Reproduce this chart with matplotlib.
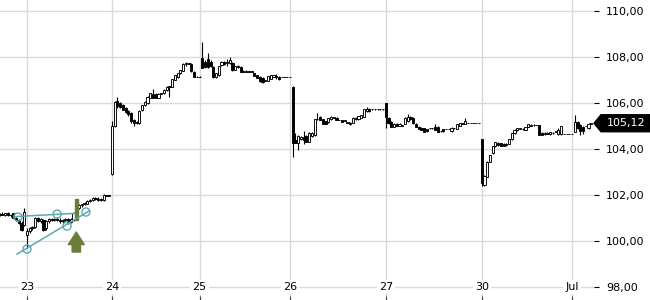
import numpy as np
import matplotlib.pyplot as plt
from matplotlib.patches import Polygon, Rectangle
from matplotlib.ticker import FuncFormatter

# intraday candles (open, high, low, close), one list per session
pre = [(101.12, 101.2, 101.08, 101.18), (101.18, 101.25, 101.12, 101.15), (101.15, 101.22, 101.1, 101.2),
       (101.2, 101.24, 101.1, 101.12), (101.12, 101.18, 101.05, 101.15), (101.2, 101.22, 100.98, 101.0),
       (101.0, 101.05, 100.85, 100.9), (100.9, 100.95, 100.72, 100.78), (100.8, 100.85, 100.45, 100.5),
       (100.7, 101.45, 100.65, 101.25)]

day23 = [(100.28, 100.56, 99.7, 100.45), (100.45, 100.6, 100.35, 100.55), (100.55, 100.65, 100.5, 100.6),
         (100.6, 101.05, 100.55, 101.0), (101.0, 101.05, 100.82, 100.85), (100.85, 101.0, 100.8, 100.95),
         (100.92, 100.96, 100.45, 100.5), (100.55, 100.92, 100.5, 100.88), (100.85, 101.0, 100.8, 100.95),
         (100.95, 101.02, 100.85, 100.9), (100.9, 101.0, 100.86, 100.95), (100.95, 101.05, 100.88, 100.92),
         (100.92, 100.98, 100.8, 100.85), (100.85, 100.95, 100.8, 100.9), (100.9, 101.0, 100.85, 100.96),
         (100.96, 101.0, 100.75, 100.8), (100.82, 100.98, 100.78, 100.95), (100.92, 101.25, 100.88, 101.2),
         (101.0, 101.5, 100.95, 101.45), (101.45, 101.6, 101.4, 101.57), (101.55, 101.62, 101.5, 101.6),
         (101.6, 101.68, 101.55, 101.65), (101.62, 101.8, 101.6, 101.76), (101.76, 101.84, 101.7, 101.8),
         (101.8, 101.9, 101.75, 101.86), (101.86, 101.92, 101.8, 101.84), (101.84, 101.9, 101.74, 101.78),
         (101.78, 101.88, 101.72, 101.82), (101.8, 102.05, 101.76, 101.98), (101.98, 102.0, 101.94, 101.96),
         (101.96, 101.98, 101.94, 101.96)]

day24 = [(102.9, 105.2, 102.85, 105.0), (105.0, 106.1, 104.95, 106.05), (106.1, 106.25, 105.8, 105.85),
         (106.0, 106.05, 105.8, 105.84), (105.9, 105.95, 105.68, 105.7), (105.78, 105.82, 105.55, 105.6),
         (105.65, 105.7, 105.45, 105.5), (105.55, 105.6, 105.15, 105.2), (105.26, 105.3, 105.0, 105.13),
         (105.12, 105.22, 105.08, 105.18), (105.13, 105.7, 105.1, 105.66), (105.7, 105.92, 105.66, 105.9),
         (105.9, 106.1, 105.85, 106.05), (106.0, 106.3, 105.95, 106.27), (106.22, 106.45, 106.2, 106.42),
         (106.4, 106.6, 106.2, 106.22), (106.38, 106.42, 106.2, 106.22), (106.22, 106.42, 106.2, 106.4),
         (106.4, 106.44, 106.38, 106.4), (106.43, 106.6, 106.4, 106.56), (106.56, 106.72, 106.5, 106.7),
         (106.7, 106.72, 106.26, 106.7), (106.7, 107.06, 106.68, 107.04), (107.0, 107.22, 106.98, 107.2),
         (107.12, 107.32, 107.1, 107.3), (107.3, 107.45, 107.28, 107.43), (107.4, 107.72, 107.38, 107.7),
         (107.68, 107.78, 107.62, 107.72), (107.72, 107.74, 107.68, 107.7), (107.7, 107.75, 107.35, 107.38),
         (107.35, 107.4, 107.12, 107.15), (107.14, 107.16, 107.12, 107.13)]

day25 = [(107.14, 107.16, 107.12, 107.13), (107.96, 108.65, 107.5, 107.52), (107.8, 107.85, 107.5, 107.55),
         (107.9, 108.17, 107.5, 107.55), (107.8, 107.85, 107.55, 107.6), (107.56, 107.6, 107.1, 107.13),
         (107.13, 107.32, 107.1, 107.3), (107.2, 107.62, 107.18, 107.6), (107.65, 107.82, 107.62, 107.8),
         (107.8, 107.84, 107.66, 107.7), (107.75, 107.9, 107.6, 107.75), (107.73, 108.0, 107.7, 107.87),
         (107.74, 107.78, 107.4, 107.43), (107.45, 107.62, 107.42, 107.6), (107.6, 107.64, 107.5, 107.55),
         (107.57, 107.6, 107.33, 107.35), (107.4, 107.42, 107.33, 107.35), (107.4, 107.42, 107.34, 107.36),
         (107.4, 107.41, 107.35, 107.36), (107.38, 107.4, 107.34, 107.36), (107.3, 107.32, 107.16, 107.18),
         (107.2, 107.22, 107.08, 107.1), (107.15, 107.17, 106.93, 106.95), (107.1, 107.12, 106.88, 106.9),
         (106.96, 106.98, 106.94, 106.96), (106.96, 107.18, 106.94, 107.17), (107.05, 107.22, 107.03, 107.2),
         (107.15, 107.22, 107.13, 107.2), (107.15, 107.25, 107.05, 107.15), (107.15, 107.17, 107.02, 107.04),
         (107.13, 107.14, 107.12, 107.13), (107.13, 107.14, 107.12, 107.13), (107.13, 107.14, 107.12, 107.13)]

day26 = [(107.13, 107.14, 107.12, 107.13), (106.7, 106.72, 103.65, 104.26), (104.4, 104.7, 104.24, 104.28),
         (104.26, 104.6, 103.96, 104.57), (104.45, 104.55, 104.38, 104.5), (104.52, 104.8, 104.2, 104.4),
         (104.57, 104.6, 104.3, 104.32), (104.32, 104.72, 104.3, 104.7), (104.55, 104.72, 104.5, 104.7),
         (104.6, 105.32, 104.58, 105.3), (105.3, 105.56, 105.28, 105.31), (105.4, 105.42, 105.24, 105.26),
         (105.3, 105.32, 105.08, 105.1), (105.2, 105.22, 105.08, 105.1), (105.17, 105.35, 105.15, 105.33),
         (105.3, 105.42, 105.28, 105.4), (105.36, 105.38, 105.34, 105.36), (105.36, 105.38, 105.24, 105.26),
         (105.26, 105.28, 105.24, 105.26), (105.26, 105.28, 105.17, 105.19), (105.22, 105.24, 105.2, 105.22),
         (105.15, 105.17, 105.13, 105.15), (105.15, 105.17, 105.05, 105.07), (105.13, 105.37, 105.11, 105.36),
         (105.3, 105.38, 105.28, 105.36), (105.3, 105.44, 105.28, 105.43), (105.36, 105.48, 105.34, 105.46),
         (105.4, 105.73, 105.38, 105.72), (105.65, 105.84, 105.63, 105.75), (105.75, 105.77, 105.63, 105.65),
         (105.72, 105.74, 105.7, 105.72), (105.72, 105.73, 105.71, 105.72), (105.72, 105.73, 105.71, 105.72),
         (105.72, 105.73, 105.71, 105.72), (105.72, 105.73, 105.71, 105.72)]

day27 = [(106.0, 106.02, 104.91, 105.4), (105.36, 105.38, 105.1, 105.12), (105.19, 105.21, 104.95, 104.97),
         (104.97, 105.12, 104.95, 105.1), (105.1, 105.12, 104.98, 105.0), (105.0, 105.14, 104.98, 105.1),
         (105.02, 105.06, 104.98, 105.04), (105.09, 105.37, 105.07, 105.35), (105.2, 105.54, 105.18, 105.4),
         (105.4, 105.42, 105.28, 105.3), (105.36, 105.38, 105.1, 105.12), (105.09, 105.11, 104.95, 104.97),
         (104.97, 104.99, 104.85, 104.87), (104.93, 104.95, 104.81, 104.83), (104.9, 104.92, 104.72, 104.74),
         (104.85, 104.87, 104.75, 104.77), (104.9, 104.92, 104.88, 104.9), (104.9, 104.91, 104.88, 104.9),
         (104.97, 105.09, 104.81, 104.83), (104.97, 104.99, 104.72, 104.74), (104.78, 104.8, 104.76, 104.78),
         (104.87, 104.89, 104.76, 104.78), (104.87, 104.88, 104.86, 104.87), (104.87, 104.88, 104.86, 104.87),
         (104.78, 104.95, 104.76, 104.93), (104.9, 104.91, 104.88, 104.9), (104.87, 105.1, 104.85, 105.09),
         (105.0, 105.15, 104.98, 105.13), (105.1, 105.12, 105.08, 105.1), (105.1, 105.36, 105.08, 105.22),
         (105.13, 105.14, 105.12, 105.13), (105.13, 105.14, 105.12, 105.13), (105.13, 105.14, 105.12, 105.13),
         (105.13, 105.14, 105.12, 105.13), (105.13, 105.14, 105.12, 105.13)]

day30 = [(104.42, 104.45, 102.39, 102.51), (102.45, 102.85, 102.4, 102.83), (102.8, 103.47, 102.78, 103.45),
         (103.45, 103.76, 103.43, 103.74), (103.81, 104.15, 103.79, 104.13), (104.13, 104.32, 104.1, 104.29),
         (104.25, 104.3, 104.15, 104.17), (104.25, 104.27, 104.11, 104.13), (104.22, 104.26, 104.12, 104.14),
         (104.2, 104.26, 104.13, 104.18), (104.22, 104.44, 104.2, 104.42), (104.42, 104.7, 104.4, 104.68),
         (104.68, 104.85, 104.66, 104.83), (104.82, 104.92, 104.8, 104.9), (104.88, 104.92, 104.86, 104.9),
         (104.85, 104.92, 104.83, 104.88), (104.84, 104.95, 104.82, 104.94), (104.97, 105.08, 104.95, 105.07),
         (105.02, 105.08, 105.0, 105.05), (105.03, 105.07, 105.0, 105.04), (105.04, 105.05, 105.03, 105.04),
         (105.04, 105.06, 104.6, 104.62), (104.7, 104.72, 104.6, 104.62), (104.65, 104.72, 104.62, 104.68),
         (104.66, 104.72, 104.64, 104.7), (104.65, 104.76, 104.63, 104.75), (104.7, 104.75, 104.66, 104.68),
         (104.75, 104.76, 104.74, 104.75), (104.65, 104.9, 104.63, 104.83), (104.65, 105.02, 104.63, 105.0),
         (104.65, 104.66, 104.64, 104.65), (104.65, 104.66, 104.64, 104.65), (104.65, 104.66, 104.64, 104.65)]

jul = [(104.65, 104.66, 104.64, 104.65), (104.75, 105.48, 104.72, 105.19), (105.19, 105.22, 104.88, 104.9),
       (105.04, 105.08, 104.61, 104.8), (104.97, 105.0, 104.65, 104.8), (105.0, 105.02, 104.98, 105.0),
       (104.9, 105.12, 104.88, 105.1), (105.1, 105.14, 105.08, 105.12)]

sessions = [pre, day23, day24, day25, day26, day27, day30, jul]
session_labels = ["23", "24", "25", "26", "27", "30", "Jul"]
price_ticks = [98, 100, 102, 104, 106, 108, 110]

# drawn tools: trendlines (bar index, price) and a buy signal
trend_lower = [(6.35, 99.43), (32.6, 101.30)]
trend_lower_pts = [(10.0, 99.65), (24.6, 100.65), (31.5, 101.26)]
trend_upper = [(5.6, 101.06), (27.2, 101.20)]
trend_upper_pts = [(6.7, 101.04), (21.0, 101.17)]
signal_bar = 18            # bar within day23
signal_range = (100.90, 101.83)
arrow_range = (99.52, 100.39)

teal = "#5fa8b0"
olive = "#6b7d3a"
gridc = "#dadada"

ohlc = np.array([bar for s in sessions for bar in s])
o, h, l, c = ohlc.T
x = np.arange(len(ohlc))
starts = np.cumsum([0] + [len(s) for s in sessions])[:-1]

fig = plt.figure(figsize=(6.5, 3), dpi=100)
ax = fig.add_axes([0, 0, 594 / 650, 1])

for yv in price_ticks:
    ax.axhline(yv, color=gridc, lw=1, zorder=0)
for s in starts[1:]:
    ax.axvline(s, color=gridc, lw=1, zorder=0)

# candles
ax.vlines(x, l, h, color="black", lw=0.8, zorder=2)
up = c >= o
ax.bar(x, np.maximum(np.abs(c - o), 0.02), bottom=np.minimum(o, c), width=0.8,
       color=np.where(up, "white", "black"), edgecolor="black", lw=0.65, zorder=3)

# signal highlight + arrow
sig = starts[1] + signal_bar
ax.add_patch(Rectangle((sig - 0.55, signal_range[0]), 1.1, signal_range[1] - signal_range[0],
                       color=olive, zorder=4))
ax.annotate("", xy=(sig, arrow_range[1]), xytext=(sig, arrow_range[0]),
            arrowprops=dict(arrowstyle="simple,head_length=0.9,head_width=1.15,tail_width=0.6",
                            color=olive, shrinkA=0, shrinkB=0, mutation_scale=10), zorder=4)

# trendlines
for line, pts in [(trend_lower, trend_lower_pts), (trend_upper, trend_upper_pts)]:
    lx, ly = zip(*line)
    ax.plot(lx, ly, color=teal, lw=1.1, zorder=5)
    px, py = zip(*pts)
    ax.scatter(px, py, s=34, facecolors="none", edgecolors=teal, lw=1, zorder=5)

ax.set_xlim(0.14, len(ohlc))
ax.set_ylim(97.435, 110.478)

# date labels sit inside the plot on a white patch
for s, lab in zip(starts[1:], session_labels):
    ax.text(s, 98.0, lab, ha="center", va="center", fontsize=8, zorder=6,
            bbox=dict(fc="white", ec="none", pad=1.5))
ax.set_xticks(starts[1:])
ax.set_xticklabels([])
ax.tick_params(axis="x", direction="in", length=3, width=0.8, color="#444444")

ax.yaxis.tick_right()
ax.set_yticks(price_ticks)
ax.yaxis.set_major_formatter(FuncFormatter(lambda v, p: f"{v:.2f}".replace(".", ",")))
ax.tick_params(axis="y", direction="out", length=3.5, width=0.8, pad=5, labelsize=8)
for sp in ax.spines.values():
    sp.set_visible(False)

# last price tag
last = c[-1]
yf = fig.transFigure.inverted().transform(ax.transData.transform((0, last)))[1]
hh = 8.5 / 300
tag = Polygon([(594 / 650, yf), (601 / 650, yf + hh), (1, yf + hh), (1, yf - hh), (601 / 650, yf - hh)],
              closed=True, transform=fig.transFigure, color="black")
fig.add_artist(tag)
fig.text(626 / 650, yf, f"{last:.2f}".replace(".", ","), color="white", fontsize=8,
         ha="center", va="center")

fig.savefig("out.png", dpi=100)
